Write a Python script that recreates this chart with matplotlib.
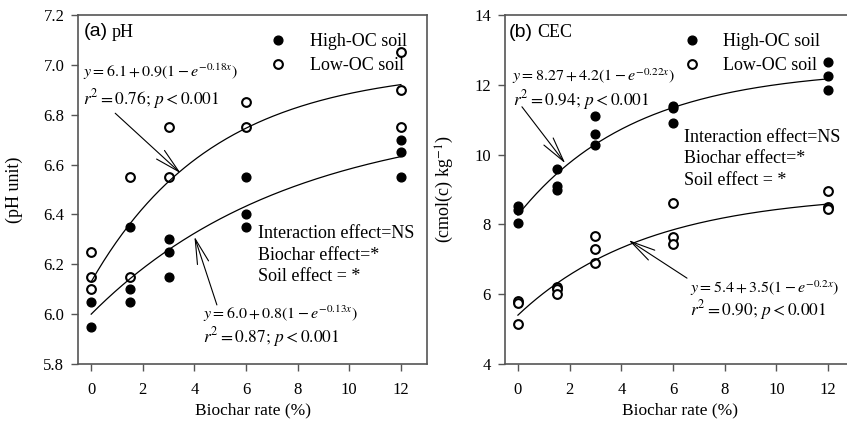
import numpy as np
import matplotlib
matplotlib.use("Agg")
import matplotlib.pyplot as plt
from matplotlib.lines import Line2D

plt.rcParams['font.family'] = ['Liberation Serif', 'DejaVu Serif']
plt.rcParams['mathtext.fontset'] = 'stix'

# pH data (biochar rate %, value)
ph_high_x = [0, 0, 1.5, 1.5, 1.5, 3, 3, 3, 6, 6, 6, 12, 12, 12]
ph_high_y = [6.05, 5.95, 6.35, 6.10, 6.05, 6.30, 6.25, 6.15, 6.55, 6.40, 6.35, 6.70, 6.65, 6.55]
ph_low_x = [0, 0, 0, 1.5, 1.5, 3, 3, 6, 6, 12, 12, 12]
ph_low_y = [6.25, 6.15, 6.10, 6.55, 6.15, 6.75, 6.55, 6.85, 6.75, 7.05, 6.90, 6.75]

# CEC data
cec_high_x = [0, 0, 0, 1.5, 1.5, 1.5, 3, 3, 3, 6, 6, 6, 12, 12, 12]
cec_high_y = [8.52, 8.40, 8.05, 9.60, 9.10, 9.00, 11.12, 10.58, 10.28, 11.40, 11.33, 10.90, 12.66, 12.26, 11.85]
cec_low_x = [0, 0, 0, 1.5, 1.5, 1.5, 3, 3, 3, 6, 6, 6, 12, 12, 12]
cec_low_y = [5.80, 5.76, 5.15, 6.22, 6.15, 6.00, 7.68, 7.29, 6.90, 8.62, 7.63, 7.43, 8.97, 8.50, 8.45]

# fitted curves y = a + b(1 - exp(-k x))
ph_high_fit = (6.0, 0.8, 0.13)
ph_low_fit = (6.13, 0.86, 0.21)
cec_high_fit = (8.27, 4.2, 0.22)
cec_low_fit = (5.4, 3.5, 0.2)

xfit = np.linspace(0, 12, 200)


def curve(p):
    a, b, k = p
    return a + b * (1 - np.exp(-k * xfit))


fig = plt.figure(figsize=(8.47, 4.29), dpi=100)
ax1 = fig.add_axes([78.3 / 847, 65 / 429, 348.4 / 847, 349 / 429])
ax2 = fig.add_axes([505 / 847, 65 / 429, 349 / 847, 349 / 429])

spine_c = '#555555'
for ax in (ax1, ax2):
    for s in ax.spines.values():
        s.set_color(spine_c)
        s.set_linewidth(1.2)
    ax.tick_params(direction='out', length=5, width=1, color=spine_c, labelsize=12, pad=5)
    ax.tick_params(axis='x', pad=8)
    ax.set_xlim(-0.5, 13)
    ax.set_xticks([0, 2, 4, 6, 8, 10, 12])
    ax.set_xlabel('Biochar rate (%)', fontsize=12.5)
    ax.xaxis.set_label_coords(0.5, -0.11)

ms = 6.3
# panel a
ax1.plot(ph_high_x, ph_high_y, 'o', color='black', ms=ms, ls='none')
ax1.plot(ph_low_x, ph_low_y, 'o', mfc='white', mec='black', mew=1.5, ms=ms, ls='none')
ax1.plot(xfit, curve(ph_high_fit), color='black', lw=0.9)
ax1.plot(xfit, curve(ph_low_fit), color='black', lw=0.9)
ax1.set_ylim(5.8, 7.2)
ax1.set_yticks(np.arange(5.8, 7.21, 0.2))
ax1.set_yticklabels(['%.1f' % v for v in np.arange(5.8, 7.21, 0.2)])
ax1.set_ylabel('(pH unit)', fontsize=13)
ax1.yaxis.set_label_coords(-0.16, 0.5)

ax1.text(-0.30, 7.133, '(a)', family='Liberation Sans', fontsize=14, va='center')
ax1.text(0.78, 7.128, 'pH', fontsize=13, va='center')

fs = 13
efs = 11.5
rfs = 12.5
ax1.text(-0.32, 6.973, r'$y = 6.1 + 0.9(1 - e^{-0.18x})$', fontsize=efs, va='center')
ax1.text(-0.32, 6.862, r'$r^2 = 0.76;\, p < 0.001$', fontsize=rfs, va='center')
ax1.text(4.35, 6.003, r'$y = 6.0 + 0.8(1 - e^{-0.13x})$', fontsize=efs, va='center')
ax1.text(4.35, 5.910, r'$r^2 = 0.87;\, p < 0.001$', fontsize=rfs, va='center')
for i, t in enumerate(['Interaction effect=NS', 'Biochar effect=*', 'Soil effect = *']):
    ax1.text(6.48, 6.324 - i * 0.087, t, fontsize=fs, va='center')

aprops = dict(arrowstyle='->,head_length=1.5,head_width=0.35', color='black', lw=0.8,
              mutation_scale=12, shrinkA=0, shrinkB=0)
ax1.annotate('', xy=(3.47, 6.565), xytext=(0.93, 6.806), arrowprops=aprops)
ax1.annotate('', xy=(4.0, 6.311), xytext=(4.87, 6.037), arrowprops=aprops)

# panel b
ax2.plot(cec_high_x, cec_high_y, 'o', color='black', ms=ms, ls='none')
ax2.plot(cec_low_x, cec_low_y, 'o', mfc='white', mec='black', mew=1.5, ms=ms, ls='none')
ax2.plot(xfit, curve(cec_high_fit), color='black', lw=0.9)
ax2.plot(xfit, curve(cec_low_fit), color='black', lw=0.9)
ax2.set_ylim(4, 14)
ax2.set_yticks([4, 6, 8, 10, 12, 14])
ax2.set_ylabel('(cmol(c) kg$^{-1}$)', fontsize=13)
ax2.yaxis.set_label_coords(-0.14, 0.5)

ax2.text(-0.37, 13.51, '(b)', family='Liberation Sans', fontsize=14, va='center')
ax2.text(0.73, 13.49, 'CEC', fontsize=13, va='center')
ax2.text(-0.23, 12.25, r'$y = 8.27 + 4.2(1 - e^{-0.22x})$', fontsize=efs, va='center')
ax2.text(-0.18, 11.56, r'$r^2 = 0.94;\, p < 0.001$', fontsize=rfs, va='center')
ax2.text(6.67, 6.17, r'$y = 5.4 + 3.5(1 - e^{-0.2x})$', fontsize=efs, va='center')
ax2.text(6.67, 5.55, r'$r^2 = 0.90;\, p < 0.001$', fontsize=rfs, va='center')
for i, t in enumerate(['Interaction effect=NS', 'Biochar effect=*', 'Soil effect = *']):
    ax2.text(6.41, 10.50 - i * 0.615, t, fontsize=fs, va='center')
ax2.annotate('', xy=(1.83, 9.75), xytext=(0.155, 11.37), arrowprops=aprops)
ax2.annotate('', xy=(4.28, 7.55), xytext=(6.54, 6.46), arrowprops=aprops)

# legends
handles = [Line2D([], [], marker='o', color='black', ls='none', ms=ms),
           Line2D([], [], marker='o', mfc='white', mec='black', mew=1.5, ls='none', ms=ms)]
labels = ['High-OC soil', 'Low-OC soil']
ax1.legend(handles, labels, loc='upper left', bbox_to_anchor=((269 - 78.3) / 348.4, 0.948),
           frameon=False, fontsize=13, handlelength=1.0, handletextpad=1.25,
           borderpad=0, borderaxespad=0, labelspacing=0.4)
ax2.legend(handles, labels, loc='upper left', bbox_to_anchor=((682.5 - 505) / 349, 0.948),
           frameon=False, fontsize=13, handlelength=1.0, handletextpad=1.25,
           borderpad=0, borderaxespad=0, labelspacing=0.4)

fig.savefig('out.png', dpi=100)
